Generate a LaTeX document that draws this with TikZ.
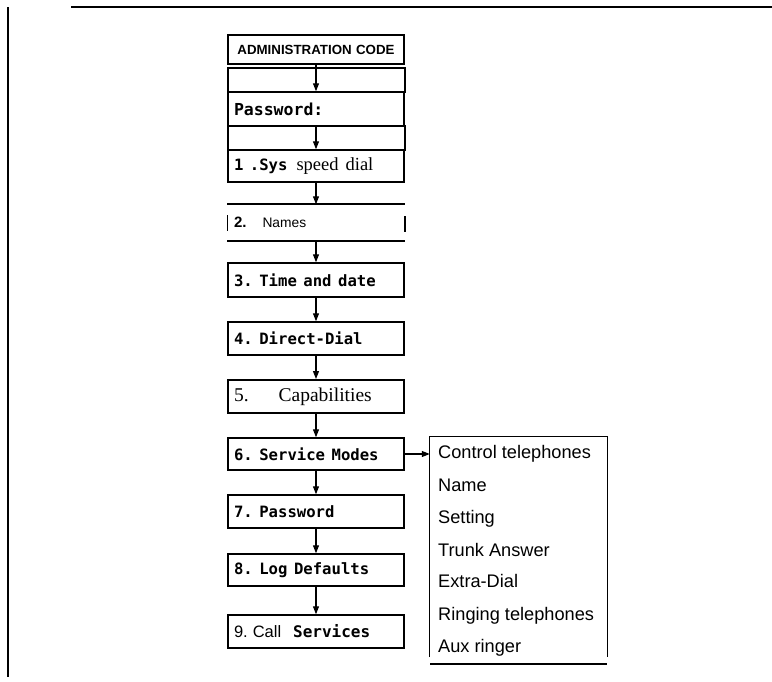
\documentclass[tikz,border=0pt]{standalone}
\usepackage{fontspec}
\setmainfont{Liberation Serif}
\setsansfont{Liberation Sans}
\setmonofont{DejaVu Sans Mono}
\usetikzlibrary{arrows.meta}
\def\lcd{\fontsize{15.6}{16}\selectfont\ttfamily\bfseries}
\def\lsp{\hspace{0.42em}}
\tikzset{
	menubox/.style={draw, line width=0.5mm, minimum height=32pt, text width=164pt, inner xsep=6pt, inner ysep=0pt, align=left},
	flow/.style={line width=0.4mm, -{Triangle[length=8pt,width=6pt]}},
	itemtext/.style={anchor=base west, inner sep=0pt, font=\fontsize{18.2}{18}\selectfont\sffamily}
}

\begin{document}
\begin{tikzpicture}[x=1pt, y=-1pt]
		%%%%% START %%%%%
		\useasboundingbox (0, 0) rectangle (772, 681);
		
		\draw[line width=0.7mm] (8, 7) -- (8, 677);
		\draw[line width=0.7mm] (71, 7) -- (772, 7);
		
		\node[menubox, minimum height=29pt, align=center, font=\fontsize{13.3}{14}\selectfont\sffamily\bfseries] (adm) at (316, 49.5) {ADMINISTRATION CODE};
		\draw[line width=0.5mm] (228, 68) rectangle (405, 92);
		\node[menubox, minimum height=34pt] (pass) at (316, 109) {\fontsize{16.5}{17}\selectfont\ttfamily\bfseries Password:};
		\draw[line width=0.5mm] (228, 126) rectangle (405, 150);
		\node[menubox] (sys) at (316, 166) {{\lcd 1\lsp.Sys}\hspace{9pt}{\fontsize{18.5}{19}\selectfont\rmfamily speed\hspace{7pt}dial}};
		
		\node[menubox, draw=none, minimum height=35pt] (names) at (316, 222.5) {{\fontsize{15}{15}\selectfont\sffamily\bfseries 2.}\hspace{16pt}{\fontsize{13.8}{14}\selectfont\sffamily Names}};
		\draw[line width=0.7mm] (names.north west) -- (names.north east);
		\draw[line width=0.7mm] (names.south west) -- (names.south east);
		\draw[line width=0.2mm] ([yshift=-8pt]names.west) -- ([yshift=8pt]names.west);
		\draw[line width=0.8mm] ([yshift=-9pt]names.east) -- ([yshift=7pt]names.east);
		
		\node[menubox, minimum height=34pt] (time) at (316, 280) {\lcd 3.\lsp Time\lsp and\lsp date};
		\node[menubox, minimum height=33pt] (direct) at (316, 338.5) {\lcd 4.\lsp Direct-Dial};
		\node[menubox, minimum height=33pt, line width=0.7mm] (caps) at (316, 396.5) {\fontsize{19.5}{19}\selectfont\rmfamily 5.\hspace{30pt}Capabilities};
		\node[menubox] (modes) at (316, 454) {\lcd 6.\lsp Service\lsp Modes};
		\node[menubox, minimum height=33pt] (pwd) at (316, 511.5) {\lcd 7.\lsp Password};
		\node[menubox] (logdef) at (316, 570) {\lcd 8.\lsp Log\lsp Defaults};
		\node[menubox, minimum height=33pt] (call) at (316, 631.5) {{\fontsize{16.5}{16}\selectfont\sffamily 9. Call}\hspace{12pt}{\fontsize{16}{16}\selectfont\ttfamily\bfseries Services}};
		
		\draw[flow] (adm) -- (pass);
		\draw[flow] (pass) -- (sys);
		\draw[flow] (sys) -- (names);
		\draw[flow] (names) -- (time);
		\draw[flow] (time) -- (direct);
		\draw[flow] (direct) -- (caps);
		\draw[flow] (caps) -- (modes);
		\draw[flow] (modes) -- (pwd);
		\draw[flow] (pwd) -- (logdef);
		\draw[flow] (logdef) -- (call);
		
		% submenu of service modes
		\node[minimum width=177pt, minimum height=220pt, inner sep=0pt] (sub) at (518.5, 547) {};
		\draw[line width=0.4mm] (sub.south west) -- (sub.north west) -- (sub.north east) -- (sub.south east);
		\draw[line width=0.6mm] (430, 664) -- (607, 664);
		\draw[flow] (modes.east) -- (modes.east -| sub.west);
		
		\node[itemtext] (ctl) at (438, 458) {Control telephones};
		\node[itemtext] (nam) at (438, 491) {Name};
		\node[itemtext] (set) at (438, 523) {Setting};
		\node[itemtext] (trk) at (438, 556) {Trunk Answer};
		\node[itemtext] (xtr) at (438, 587) {Extra-Dial};
		\node[itemtext] (rng) at (438, 620) {Ringing telephones};
		\node[itemtext] (aux) at (438, 652) {Aux ringer};
		
		%%%%% END %%%%%
\end{tikzpicture}
\end{document}
